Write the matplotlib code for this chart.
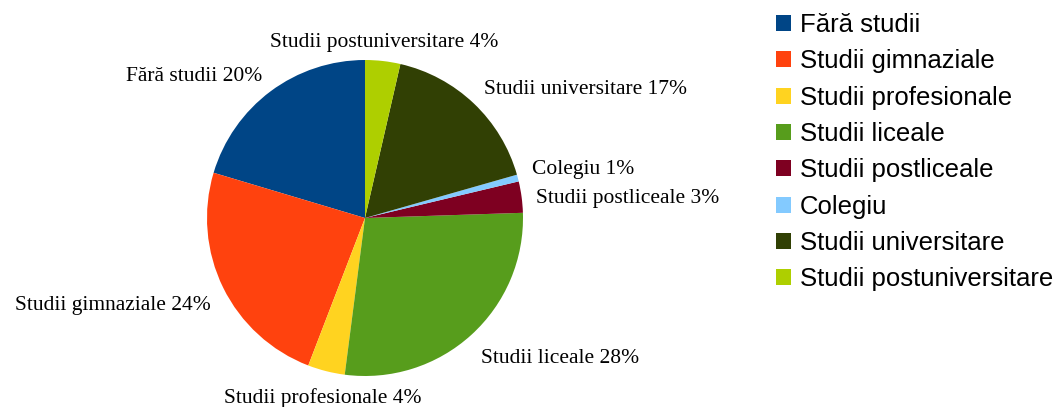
import numpy as np
import matplotlib
matplotlib.use('Agg')
from matplotlib import pyplot as plt
from matplotlib.patches import Patch

# education levels and their shares (percent)
categories = ['Fără studii', 'Studii gimnaziale', 'Studii profesionale',
              'Studii liceale', 'Studii postliceale', 'Colegiu',
              'Studii universitare', 'Studii postuniversitare']
shares = [20.4, 23.8, 3.8, 27.6, 3.2, 0.7, 17.0, 3.6]
colors = ['#004586', '#ff420e', '#ffd320', '#579d1c',
          '#7e0021', '#83caff', '#314004', '#aecf00']

W, H = 1054, 407
fig = plt.figure(figsize=(W / 100., H / 100.), dpi=100)

# pie centre and radius in pixels
cx, cy, r = 365, 218, 158
lim = 1.25
ax = fig.add_axes([(cx - lim * r) / W, (H - cy - lim * r) / H,
                   2 * lim * r / W, 2 * lim * r / H])

total = float(sum(shares))
labels = ['%s %d%%' % (c, int(round(v / total * 100))) for c, v in zip(categories, shares)]

wedges, texts = ax.pie(shares, colors=colors, startangle=90, counterclock=True,
                       labels=labels, labeldistance=1.1,
                       wedgeprops=dict(linewidth=0),
                       textprops=dict(family='Liberation Serif', fontsize=15.5))
ax.set_xlim(-lim, lim)
ax.set_ylim(-lim, lim)
ax.set_aspect('equal')
ax.axis('off')

# label placement roughly like the office suite does it
pos = []
for w, t in zip(wedges, texts):
    ang = np.deg2rad((w.theta1 + w.theta2) / 2.)
    x, y = 1.09 * np.cos(ang), 1.12 * np.sin(ang)
    if abs(np.cos(ang)) < 0.3:
        t.set_ha('center')
    if np.sin(ang) < -0.9:
        y = -1.14
    elif np.sin(ang) < -0.3:
        t.set_va('top')
    t.set_clip_on(False)
    pos.append([x, y])

# push apart labels that sit too close on the same side
gap = 0.18
for i in range(len(texts)):
    for j in range(i + 1, len(texts)):
        same_side = np.sign(pos[i][0]) == np.sign(pos[j][0])
        dy = pos[j][1] - pos[i][1]
        if same_side and abs(dy) < gap and texts[i].get_va() == texts[j].get_va():
            mid = (pos[i][1] + pos[j][1]) / 2.
            s = 1 if dy > 0 else -1
            pos[i][1] = mid - s * gap / 2.
            pos[j][1] = mid + s * gap / 2.
for t, p in zip(texts, pos):
    t.set_position(p)

handles = [Patch(facecolor=c, edgecolor='none') for c in colors]
fig.legend(handles, categories, loc='upper left', bbox_to_anchor=(776. / W, 1 - 13. / H),
           frameon=False, prop=dict(family='Liberation Sans', size=18.5),
           handlelength=0.58, handleheight=0.58, handletextpad=0.35,
           labelspacing=0.48, borderaxespad=0, borderpad=0)

plt.savefig('out.png', dpi=100)
